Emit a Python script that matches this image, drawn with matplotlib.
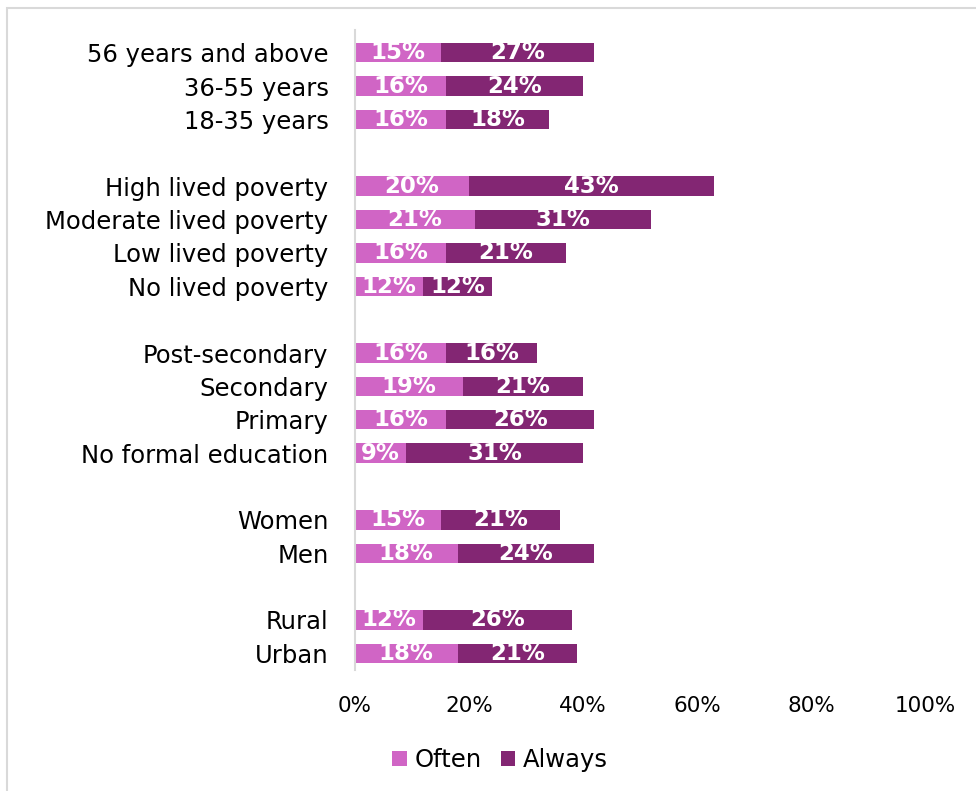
import matplotlib.pyplot as plt
from matplotlib.patches import Rectangle
import numpy as np

plt.rcParams['font.family'] = ['DejaVu Sans']

# rows from top to bottom, None = blank spacer row
labels = ['56 years and above', '36-55 years', '18-35 years', None,
          'High lived poverty', 'Moderate lived poverty', 'Low lived poverty', 'No lived poverty', None,
          'Post-secondary', 'Secondary', 'Primary', 'No formal education', None,
          'Women', 'Men', None,
          'Rural', 'Urban']
often = [15, 16, 16, None, 20, 21, 16, 12, None, 16, 19, 16, 9, None, 15, 18, None, 12, 18]
always = [27, 24, 18, None, 43, 31, 21, 12, None, 16, 21, 26, 31, None, 21, 24, None, 26, 21]

c_often = '#D065C5'
c_always = '#832673'

fig = plt.figure(figsize=(9.76, 7.91), dpi=100)
fig.patches.append(Rectangle((7 / 976, -0.1), 1.2, 1 - 8 / 791 + 0.1, transform=fig.transFigure,
                             fill=False, edgecolor='#D9D9D9', linewidth=1.5))
ax = fig.add_axes([355 / 976, 1 - 670 / 791, 570 / 976, (670 - 30) / 791])

for i, (lab, o, a) in enumerate(zip(labels, often, always)):
    if lab is None:
        continue
    ax.barh(i, o, height=0.58, color=c_often, label='Often' if i == 0 else None)
    ax.barh(i, a, left=o, height=0.58, color=c_always, label='Always' if i == 0 else None)
    ax.text(o / 2, i, f'{o}%', ha='center', va='center', color='white',
            fontsize=16.5, fontweight='bold')
    ax.text(o + a / 2, i, f'{a}%', ha='center', va='center', color='white',
            fontsize=16.5, fontweight='bold')

pos = [i for i, l in enumerate(labels) if l is not None]
ax.set_yticks(pos)
ax.set_yticklabels([l for l in labels if l is not None], fontsize=17.5)
ax.set_ylim(18.5, -0.68)
ax.set_xlim(0, 100)
ax.set_xticks(np.arange(0, 101, 20))
ax.set_xticklabels([f'{v}%' for v in range(0, 101, 20)], fontsize=15.5)
ax.tick_params(axis='both', length=0)
ax.tick_params(axis='x', pad=19)
ax.tick_params(axis='y', pad=19)
for s in ['top', 'right', 'bottom']:
    ax.spines[s].set_visible(False)
ax.spines['left'].set_color('#D9D9D9')
ax.spines['left'].set_linewidth(1.5)

fig.legend(loc='center', bbox_to_anchor=(500 / 976, 1 - 760 / 791), ncol=2, frameon=False,
           fontsize=17.5, handlelength=0.6, handleheight=0.6, handletextpad=0.3, columnspacing=0.8)

fig.savefig('out.png', dpi=100)
